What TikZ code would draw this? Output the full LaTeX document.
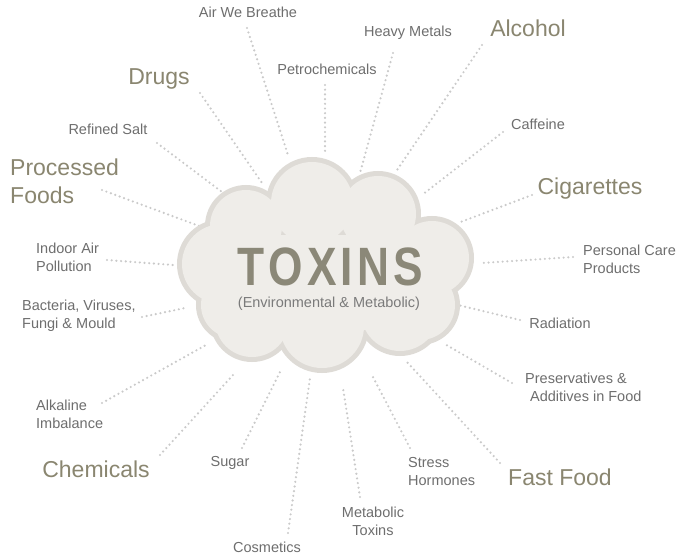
\documentclass[tikz,border=0pt]{standalone}
\usepackage{fontspec}
\setmainfont{Liberation Sans}
\definecolor{bigc}{HTML}{8A8670}
\definecolor{smallc}{HTML}{6E6E6E}
\definecolor{subc}{HTML}{7A7A7A}
\definecolor{dotc}{HTML}{CACACA}
\definecolor{cloudfill}{HTML}{EFEDE9}
\definecolor{cloudedge}{HTML}{DEDBD6}
\definecolor{titlec}{HTML}{8B8878}
\tikzset{
  smalllbl/.style={font=\fontsize{14.5}{18}\selectfont, text=smallc, inner sep=0pt},
  biglbl/.style={font=\fontsize{23}{28}\selectfont, text=bigc, inner sep=0pt},
  dotline/.style={draw=dotc, line width=2.4pt, line cap=round, dash pattern=on 0pt off 4.7pt},
}
\begin{document}
\begin{tikzpicture}[x=1pt,y=-1pt]
\fill[white] (0,0) rectangle (697,559);
\useasboundingbox (0,0) rectangle (697,559);

% connector end points
\coordinate (airA) at (247,28);   \coordinate (airB) at (288,155);
\coordinate (petA) at (325,85);   \coordinate (petB) at (325,152);
\coordinate (heaA) at (393,53);   \coordinate (heaB) at (360,173);
\coordinate (alcA) at (482,45);   \coordinate (alcB) at (397,170);
\coordinate (cafA) at (503,132);  \coordinate (cafB) at (422,195);
\coordinate (cigA) at (532,195);  \coordinate (cigB) at (458,223);
\coordinate (perA) at (573,257);  \coordinate (perB) at (482,263);
\coordinate (radA) at (520,320);  \coordinate (radB) at (458,305);
\coordinate (preA) at (512,383);  \coordinate (preB) at (443,343);
\coordinate (fasA) at (500,463);  \coordinate (fasB) at (407,362);
\coordinate (strA) at (410,448);  \coordinate (strB) at (373,377);
\coordinate (metA) at (360,497);  \coordinate (metB) at (343,388);
\coordinate (cosA) at (288,533);  \coordinate (cosB) at (310,378);
\coordinate (sugA) at (242,448);  \coordinate (sugB) at (280,372);
\coordinate (cheA) at (160,455);  \coordinate (cheB) at (233,375);
\coordinate (alkA) at (102,403);  \coordinate (alkB) at (206,345);
\coordinate (bacA) at (142,317);  \coordinate (bacB) at (185,308);
\coordinate (indA) at (107,260);  \coordinate (indB) at (173,265);
\coordinate (proA) at (102,190);  \coordinate (proB) at (210,230);
\coordinate (salA) at (157,143);  \coordinate (salB) at (222,192);
\coordinate (druA) at (200,93);   \coordinate (druB) at (262,183);

\foreach \n in {air,pet,hea,alc,caf,cig,per,rad,pre,fas,str,met,cos,sug,che,alk,bac,ind,pro,sal,dru}
  \draw[dotline] (\n A) -- (\n B);

% cloud: inner radii; border stroked outward
\def\cloudcircles{312/203/41, 246/226/36, 378/214/38, 432/258/37, 420/305/35, 400/312/39, 322/326/42, 252/320/37, 222/264/40, 234/305/33}
\foreach \cx/\cy/\r in \cloudcircles
  \draw[cloudedge, line width=10pt] (\cx,\cy) circle[radius=\r];
\foreach \cx/\cy/\r in \cloudcircles
  \fill[cloudfill] (\cx,\cy) circle[radius=\r];
\fill[cloudfill] (240,235) rectangle (420,330);

\node[anchor=base, inner sep=0pt, text=titlec, font=\fontsize{54}{54}\selectfont\bfseries] (toxins) at (330,285)
  {\scalebox{0.82}[1]{T\kern5pt O\kern5pt X\kern5pt I\kern5pt N\kern5pt S}};
\node[anchor=base, inner sep=0pt, text=subc, font=\fontsize{14.5}{18}\selectfont] (sub) at (329,308) {(Environmental \& Metabolic)};

% labels
\node[smalllbl, anchor=base] (air) at (248,18) {Air We Breathe};
\node[smalllbl, anchor=base] (pet) at (327,75) {Petrochemicals};
\node[smalllbl, anchor=base] (hea) at (408,37) {Heavy Metals};
\node[biglbl, anchor=base] (alc) at (528,37) {Alcohol};
\node[biglbl, anchor=base] (dru) at (159,85) {Drugs};
\node[smalllbl, anchor=base] (sal) at (108,135) {Refined Salt};
\node[smalllbl, anchor=base] (caf) at (538,130) {Caffeine};
\node[biglbl, anchor=base] (cig) at (590,195) {Cigarettes};
\node[biglbl, anchor=north west, align=left] (pro) at (10,158.5) {Processed\\Foods};
\node[smalllbl, anchor=north west, align=left] (per) at (583,244.5) {Personal Care\\Products};
\node[smalllbl, anchor=north west, align=left] (ind) at (36,242.5) {Indoor Air\\Pollution};
\node[smalllbl, anchor=north west, align=left] (bac) at (22,299.5) {Bacteria, Viruses,\\Fungi \& Mould};
\node[smalllbl, anchor=base] (rad) at (560,328) {Radiation};
\node[smalllbl, anchor=north west, align=left] (pre) at (525,372.5) {Preservatives \&\\\hspace*{5pt}Additives in Food};
\node[smalllbl, anchor=north west, align=left] (alk) at (36,399.5) {Alkaline\\Imbalance};
\node[smalllbl, anchor=north west, align=left] (str) at (408,457.5) {Stress\\Hormones};
\node[smalllbl, anchor=north, align=center] (met) at (373,506.5) {Metabolic\\Toxins};
\node[biglbl, anchor=base] (che) at (96,477) {Chemicals};
\node[smalllbl, anchor=base] (sug) at (230,466) {Sugar};
\node[biglbl, anchor=base] (fas) at (560,485) {Fast Food};
\node[smalllbl, anchor=base] (cos) at (267,552) {Cosmetics};
\end{tikzpicture}
\end{document}
